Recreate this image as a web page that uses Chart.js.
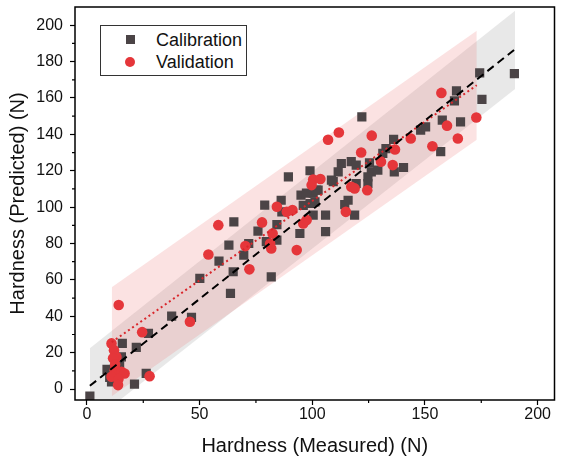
<!DOCTYPE html>
<html>
<head>
<meta charset="utf-8">
<script src="https://cdn.jsdelivr.net/npm/chart.js@4.4.0/dist/chart.umd.min.js"></script>
<style>
  html, body { margin: 0; padding: 0; background: #fff; }
  #wrap { position: relative; width: 561px; height: 469px; }
  #legend {
    position: absolute; left: 100px; top: 25px; width: 145px; height: 49px;
    border: 1px solid #333; background: #fff;
    font: 18px "Liberation Sans", Arial, sans-serif; color: #111;
  }
  .row { position: absolute; left: 0; height: 22px; line-height: 22px; }
  .row span.txt { position: absolute; left: 55px; white-space: nowrap; }
  .mk { position: absolute; }
  .sq { width: 9px; height: 9px; background: #4b4446; left: 25px; top: 6px; }
  .ci { width: 10px; height: 10px; border-radius: 50%; background: #e5363a; left: 24px; top: 6px; }
</style>
</head>
<body>
<div id="wrap">
  <canvas id="chart" width="561" height="469"></canvas>
  <div id="legend">
    <div class="row" style="top:3px"><span class="mk sq"></span><span class="txt">Calibration</span></div>
    <div class="row" style="top:25px"><span class="mk ci"></span><span class="txt">Validation</span></div>
  </div>
</div>
<script>
// calibration set (squares)
var calX = [1.3, 21.1, 10.9, 10.1, 8.9, 14.5, 15.3, 15.7, 21.9, 26.3, 27.3, 37.6, 46.4, 50.1, 63.7, 58.6,
  64.9, 69.6, 63.0, 71.8, 81.8, 79.6, 84.3, 65.2, 75.9, 78.9, 86.2, 84.3, 94.5, 105.9, 89.4, 99.0,
  95.0, 97.4, 100.4, 96.0, 99.0, 100.4, 105.9, 101.9, 101.2, 86.5, 111.5, 109.3, 112.9, 117.3, 115.9,
  114.4, 118.8, 122.0, 119.5, 125.4, 126.2, 129.1, 124.7, 119.5, 124.7, 102.6, 108.5, 131.3, 132.7,
  136.1, 136.4, 140.5, 148.1, 150.3, 157.7, 157.0, 165.8, 163.1, 164.0, 174.3, 175.3, 189.7];
var calY = [-3.8, 2.7, 4.0, 6.4, 10.8, 13.2, 17.7, 25.1, 22.9, 8.6, 30.6, 40.1, 39.4, 60.8, 52.6, 70.3,
  64.5, 73.6, 79.1, 80.0, 61.7, 81.0, 81.9, 91.9, 86.8, 101.1, 103.8, 90.4, 85.5, 86.5, 116.6, 120.0,
  106.6, 107.7, 107.7, 101.0, 102.0, 95.6, 95.6, 109.3, 102.9, 97.4, 119.4, 114.0, 124.0, 125.0, 103.8,
  101.4, 95.6, 149.6, 123.1, 124.3, 119.4, 120.3, 116.6, 113.0, 113.0, 109.3, 114.8, 129.5, 132.2,
  137.2, 119.4, 121.8, 142.3, 144.1, 147.8, 130.5, 146.9, 158.4, 163.9, 173.8, 159.2, 173.4];

// validation set (circles)
var valX = [14.1, 45.7, 24.5, 10.9, 12.0, 13.1, 11.6, 12.5, 12.3, 15.3, 16.7, 10.9, 14.0, 13.8, 27.8,
  53.9, 58.3, 70.3, 72.1, 77.7, 81.3, 81.8, 82.4, 84.3, 88.7, 91.2, 93.1, 97.5, 96.0, 100.4, 103.6,
  99.7, 107.0, 111.8, 126.4, 117.3, 118.8, 114.9, 121.7, 130.5, 135.7, 136.7, 124.4, 143.7, 153.3,
  159.8, 157.3, 164.6, 172.8];
var valY = [46.2, 37.0, 31.3, 25.1, 21.4, 17.7, 16.9, 13.5, 10.4, 9.5, 8.6, 6.8, 5.5, 2.2, 7.1,
  74.0, 90.1, 78.6, 65.8, 91.6, 80.0, 77.3, 85.5, 100.2, 97.4, 98.4, 76.4, 92.9, 91.0, 115.2, 115.5,
  112.1, 137.0, 141.0, 139.3, 111.2, 110.3, 97.4, 130.0, 125.0, 123.1, 131.7, 109.3, 137.7, 133.5,
  144.8, 162.8, 137.7, 149.3];

// fit lines and bands (end points)
var calFitX = [1.3, 190];
var calFitY = [1.8, 186.8];
var valFitX = [11, 173];
var valFitY = [25.8, 167];
var calBandX = [1.3, 190];
var calBandHi = [22.5, 208];
var calBandLo = [-19, 165];
var valBandX = [11, 173];
var valBandHi = [56, 197];
var valBandLo = [-4, 137];

var xTicks = [0, 50, 100, 150, 200];
var xMinor = [25, 75, 125, 175];
var yTicks = [0, 20, 40, 60, 80, 100, 120, 140, 160, 180, 200];
var yMinor = [10, 30, 50, 70, 90, 110, 130, 150, 170, 190];

var FONT = '"Liberation Sans", Arial, sans-serif';

function pts(xs, ys) {
  return xs.map(function (x, i) { return { x: x, y: ys[i] }; });
}

// box around plot + short minor ticks
var framePlugin = {
  id: 'frame',
  afterDraw: function (chart) {
    var ctx = chart.ctx, a = chart.chartArea;
    var sx = chart.scales.x, sy = chart.scales.y;
    ctx.save();
    ctx.strokeStyle = '#000';
    ctx.lineWidth = 1.5;
    ctx.strokeRect(a.left, a.top, a.right - a.left, a.bottom - a.top);
    ctx.lineWidth = 1.2;
    ctx.beginPath();
    xMinor.forEach(function (v) {
      var p = sx.getPixelForValue(v);
      ctx.moveTo(p, a.bottom); ctx.lineTo(p, a.bottom + 3);
    });
    yMinor.forEach(function (v) {
      var p = sy.getPixelForValue(v);
      ctx.moveTo(a.left, p); ctx.lineTo(a.left - 3, p);
    });
    ctx.stroke();
    ctx.restore();
  }
};

var datasets = [
  { type: 'line', data: pts(calFitX, calFitY), showLine: true, borderColor: '#000', borderWidth: 2,
    borderDash: [8, 5], pointRadius: 0, fill: false, order: 0 },
  { type: 'line', data: pts(valFitX, valFitY), showLine: true, borderColor: '#d9262b', borderWidth: 2,
    borderDash: [2, 3], pointRadius: 0, fill: false, order: 1 },
  { label: 'Validation', data: pts(valX, valY), pointStyle: 'circle', pointRadius: 5.3,
    backgroundColor: '#e5363a', borderWidth: 0, order: 2 },
  { label: 'Calibration', data: pts(calX, calY), pointStyle: 'rect', pointRadius: 6.5,
    backgroundColor: '#4b4446', borderWidth: 0, order: 3 },
  { type: 'line', data: pts(valBandX, valBandHi), showLine: true, borderColor: 'transparent', borderWidth: 0,
    pointRadius: 0, fill: false, order: 4 },
  { type: 'line', data: pts(valBandX, valBandLo), showLine: true, borderColor: 'transparent', borderWidth: 0,
    pointRadius: 0, fill: 4, backgroundColor: 'rgba(235,110,110,0.2)', order: 5 },
  { type: 'line', data: pts(calBandX, calBandHi), showLine: true, borderColor: 'transparent', borderWidth: 0,
    pointRadius: 0, fill: false, order: 6 },
  { type: 'line', data: pts(calBandX, calBandLo), showLine: true, borderColor: 'transparent', borderWidth: 0,
    pointRadius: 0, fill: 6, backgroundColor: 'rgba(180,180,180,0.3)', order: 7 }
];

var ctx = document.getElementById('chart').getContext('2d');
var myChart = new Chart(ctx, {
  type: 'scatter',
  data: { datasets: datasets },
  plugins: [framePlugin],
  options: {
    responsive: false,
    animation: false,
    events: [],
    layout: { padding: { top: 7, right: 3, left: 0, bottom: 0 } },
    plugins: {
      legend: { display: false },
      tooltip: { enabled: false }
    },
    scales: {
      x: {
        type: 'linear',
        min: -5.3,
        max: 207.5,
        afterBuildTicks: function (s) { s.ticks = xTicks.map(function (v) { return { value: v }; }); },
        afterFit: function (s) { s.height = 69; s.paddingLeft = 0; s.paddingRight = 0; },
        grid: { drawOnChartArea: false, drawTicks: true, tickLength: 5, color: '#000', tickWidth: 1.2 },
        border: { display: false },
        ticks: { color: '#111', font: { family: FONT, size: 16 }, padding: 0, maxRotation: 0, autoSkip: false },
        title: { display: true, text: 'Hardness (Measured) (N)', color: '#111',
          font: { family: FONT, size: 20 }, padding: { top: 0, bottom: 11 } }
      },
      y: {
        type: 'linear',
        min: -6,
        max: 210,
        afterBuildTicks: function (s) { s.ticks = yTicks.map(function (v) { return { value: v }; }); },
        afterFit: function (s) { s.width = 75; s.paddingTop = 0; s.paddingBottom = 0; },
        grid: { drawOnChartArea: false, drawTicks: true, tickLength: 5, color: '#000', tickWidth: 1.2 },
        border: { display: false },
        ticks: { color: '#111', font: { family: FONT, size: 16 }, padding: 7, autoSkip: false },
        title: { display: true, text: 'Hardness (Predicted) (N)', color: '#111',
          font: { family: FONT, size: 20 }, padding: { top: 6, bottom: 0 } }
      }
    }
  }
});
</script>
</body>
</html>
